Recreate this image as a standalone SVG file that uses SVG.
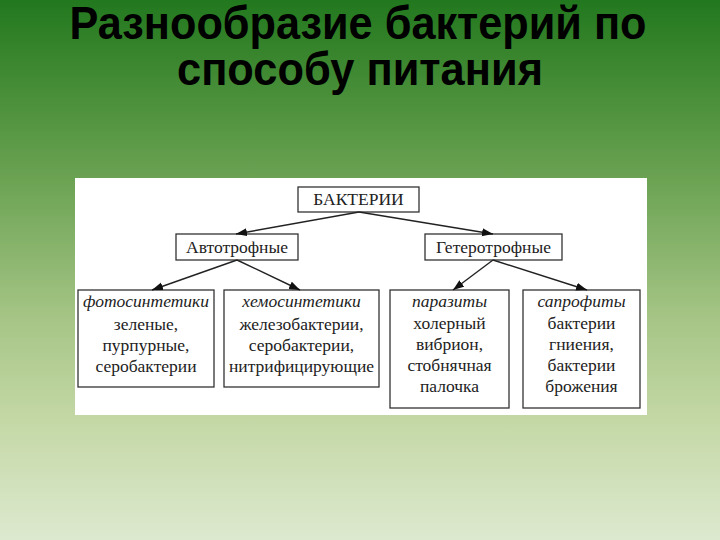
<svg xmlns="http://www.w3.org/2000/svg" width="720" height="540" viewBox="0 0 720 540">
  <defs>
    <linearGradient id="bg" x1="0" y1="0" x2="0" y2="1">
      <stop offset="0" stop-color="#22781e"/>
      <stop offset="0.18" stop-color="#4a8f3a"/>
      <stop offset="0.35" stop-color="#6fa556"/>
      <stop offset="0.6" stop-color="#a8c688"/>
      <stop offset="0.78" stop-color="#c4d8a6"/>
      <stop offset="1" stop-color="#dde9cf"/>
    </linearGradient>
    <marker id="arr" markerUnits="userSpaceOnUse" markerWidth="12" markerHeight="10" refX="11" refY="4" orient="auto">
      <path d="M0,0 L11,4 L0,8 Z" fill="#111"/>
    </marker>
    <style>
      .title { font-family: "Liberation Sans", Arial, sans-serif; font-weight: bold; font-size: 46px; fill: #000; }
      .box { fill: #fff; stroke: #333; stroke-width: 1.3; }
      .t { font-family: "Liberation Serif", "Times New Roman", serif; font-size: 17.5px; fill: #222; text-anchor: middle; }
      .i { font-family: "Liberation Serif", "Times New Roman", serif; font-style: italic; font-size: 17.5px; fill: #222; text-anchor: middle; }
      .conn line { stroke: #222; stroke-width: 1.4; marker-end: url(#arr); }
    </style>
  </defs>
  <rect x="0" y="0" width="720" height="540" fill="url(#bg)"/>
  <g id="title">
    <text class="title" x="358" y="39" font-size="42" text-anchor="middle" textLength="577" lengthAdjust="spacingAndGlyphs">Разнообразие бактерий по</text>
    <text class="title" x="360" y="85" text-anchor="middle" textLength="366" lengthAdjust="spacingAndGlyphs">способу питания</text>
  </g>
  <rect id="panel" x="75" y="178" width="572" height="237" fill="#fff"/>
  <g id="n-bacteria">
    <rect class="box" x="298" y="187" width="121" height="25"/>
    <text class="t" x="358.5" y="205">БАКТЕРИИ</text>
  </g>
  <g id="n-auto">
    <rect class="box" x="176" y="234" width="122" height="26"/>
    <text class="t" x="237" y="253">Автотрофные</text>
  </g>
  <g id="n-hetero">
    <rect class="box" x="425" y="234" width="137" height="26"/>
    <text class="t" x="493.5" y="253">Гетеротрофные</text>
  </g>
  <g id="n-photo">
    <rect class="box" x="78" y="290" width="136" height="97"/>
    <text class="i" x="146" y="307">фотосинтетики</text>
    <text class="t" x="146" y="330">зеленые,</text>
    <text class="t" x="146" y="351">пурпурные,</text>
    <text class="t" x="146" y="372">серобактерии</text>
  </g>
  <g id="n-chemo">
    <rect class="box" x="224" y="290" width="155" height="97"/>
    <text class="i" x="301.5" y="307">хемосинтетики</text>
    <text class="t" x="301.5" y="330">железобактерии,</text>
    <text class="t" x="301.5" y="351">серобактерии,</text>
    <text class="t" x="301.5" y="372">нитрифицирующие</text>
  </g>
  <g id="n-parasites">
    <rect class="box" x="390" y="290" width="119" height="118"/>
    <text class="i" x="449.5" y="307">паразиты</text>
    <text class="t" x="449.5" y="329">холерный</text>
    <text class="t" x="449.5" y="350">вибрион,</text>
    <text class="t" x="449.5" y="371">стобнячная</text>
    <text class="t" x="449.5" y="392">палочка</text>
  </g>
  <g id="n-sapro">
    <rect class="box" x="523" y="290" width="117" height="118"/>
    <text class="i" x="581.5" y="307">сапрофиты</text>
    <text class="t" x="581.5" y="329">бактерии</text>
    <text class="t" x="581.5" y="350">гниения,</text>
    <text class="t" x="581.5" y="371">бактерии</text>
    <text class="t" x="581.5" y="392">брожения</text>
  </g>
  <g class="conn" id="connectors">
    <line x1="359" y1="212" x2="236" y2="234"/>
    <line x1="359" y1="212" x2="493" y2="234"/>
    <line x1="237" y1="260" x2="152" y2="290"/>
    <line x1="237" y1="260" x2="300" y2="290"/>
    <line x1="493" y1="260" x2="453" y2="290"/>
    <line x1="493" y1="260" x2="587" y2="290"/>
  </g>
</svg>
